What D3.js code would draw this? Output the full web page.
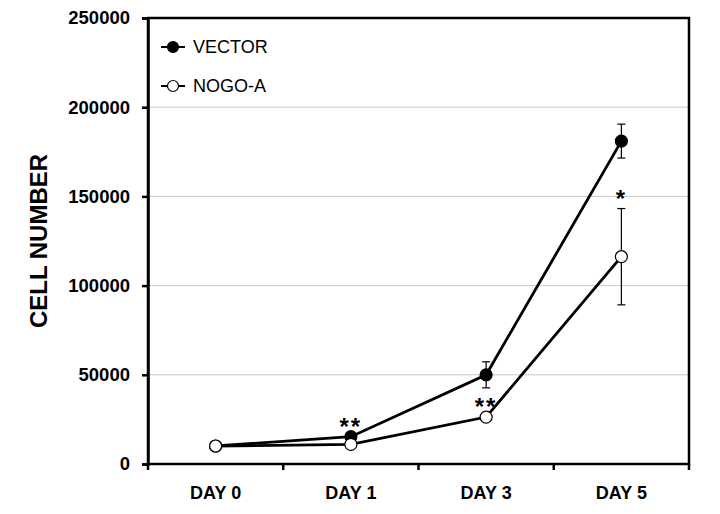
<!DOCTYPE html>
<html><head><meta charset="utf-8">
<script src="https://cdn.jsdelivr.net/npm/d3@7"></script>
<style>body{margin:0;background:#fff}svg{display:block}</style>
</head><body>
<script>
const categories = ["DAY 0","DAY 1","DAY 3","DAY 5"];
const vectorVals = [10100, 15300, 50000, 181000];
const vectorErr = [0, 0, 7300, 9500];
const nogoVals = [10100, 11000, 26300, 116200];
const nogoErr = [0, 0, 0, 27000];
const yTicks = [0, 50000, 100000, 150000, 200000, 250000];
const stars = [{cat:"DAY 1", val:15300, txt:"**"}, {cat:"DAY 3", val:26300, txt:"**"}, {cat:"DAY 5", val:143200, txt:"*"}];
const seriesNames = ["VECTOR","NOGO-A"];

const W=720,H=514;
const m={l:148,r:31,t:18,b:50};
const svg=d3.select("body").append("svg").attr("width",W).attr("height",H);
const x=d3.scaleBand().domain(categories).range([m.l,W-m.r]);
const y=d3.scaleLinear().domain([0,250000]).range([H-m.b,m.t]);
const font="Arial, 'Liberation Sans', sans-serif";

// gridlines
svg.append("g").selectAll("line").data(yTicks.slice(1,-1)).join("line")
 .attr("x1",m.l).attr("x2",W-m.r).attr("y1",d=>y(d)).attr("y2",d=>y(d))
 .attr("stroke","#c8c8c8").attr("stroke-width",1);

// frame
svg.append("rect").attr("x",m.l).attr("y",m.t).attr("width",W-m.r-m.l).attr("height",H-m.b-m.t)
 .attr("fill","none").attr("stroke","#000").attr("stroke-width",2.5);

// y axis
const ya=svg.append("g").attr("transform",`translate(${m.l},0)`)
 .call(d3.axisLeft(y).tickValues(yTicks).tickFormat(d3.format("d")).tickSize(6).tickPadding(12));
ya.select(".domain").attr("stroke-width",2.5);
ya.selectAll(".tick line").attr("stroke-width",2.5);
ya.selectAll("text").attr("font-family",font).attr("font-size",18.5).attr("font-weight","bold").attr("fill","#000");

// x axis
const xa=svg.append("g").attr("transform",`translate(0,${H-m.b})`)
 .call(d3.axisBottom(x).tickSize(0).tickPadding(22));
xa.select(".domain").remove();
xa.selectAll("text").attr("font-family",font).attr("font-size",18).attr("font-weight","bold").attr("fill","#000");
const bounds=categories.map(c=>x(c)).concat([x(categories[categories.length-1])+x.bandwidth()]);
svg.append("g").selectAll("line").data(bounds).join("line")
 .attr("x1",d=>d).attr("x2",d=>d).attr("y1",H-m.b).attr("y2",H-m.b+6)
 .attr("stroke","#000").attr("stroke-width",2.5);

// y title
svg.append("text").attr("transform",`translate(47,${(m.t+H-m.b)/2}) rotate(-90)`)
 .attr("text-anchor","middle").attr("font-family",font).attr("font-size",24).attr("font-weight","bold").text("CELL NUMBER");

const cx=c=>x(c)+x.bandwidth()/2;
const line=d3.line().x((d,i)=>cx(categories[i])).y(d=>y(d));

function drawSeries(vals,errs,fill){
  const g=svg.append("g");
  g.append("path").attr("d",line(vals)).attr("fill","none").attr("stroke","#000").attr("stroke-width",2.8);
  vals.forEach((v,i)=>{
    if(errs[i]>0){
      const X=cx(categories[i]);
      g.append("line").attr("x1",X).attr("x2",X).attr("y1",y(v+errs[i])).attr("y2",y(v-errs[i])).attr("stroke","#000").attr("stroke-width",1.2);
      [v+errs[i],v-errs[i]].forEach(e=>g.append("line").attr("x1",X-4).attr("x2",X+4).attr("y1",y(e)).attr("y2",y(e)).attr("stroke","#000").attr("stroke-width",1.2));
    }
  });
  g.selectAll("circle").data(vals).join("circle").attr("cx",(d,i)=>cx(categories[i])).attr("cy",d=>y(d))
   .attr("r",6).attr("fill",fill).attr("stroke","#000").attr("stroke-width",1.2);
}
drawSeries(vectorVals,vectorErr,"#000");
drawSeries(nogoVals,nogoErr,"#fff");

// stars
svg.append("g").selectAll("text").data(stars).join("text")
 .attr("x",d=>cx(d.cat)).attr("y",d=>y(d.val)-2).attr("text-anchor","middle")
 .attr("font-family",font).attr("font-size",24).attr("font-weight","bold").attr("letter-spacing",2)
 .text(d=>d.txt);

// legend
const lg=svg.append("g");
seriesNames.forEach((n,i)=>{
  const ly=47+i*39;
  lg.append("line").attr("x1",161).attr("x2",185).attr("y1",ly).attr("y2",ly).attr("stroke","#000").attr("stroke-width",2);
  lg.append("circle").attr("cx",173).attr("cy",ly).attr("r",5.5).attr("fill",i===0?"#000":"#fff").attr("stroke","#000").attr("stroke-width",1.2);
  lg.append("text").attr("x",193).attr("y",ly).attr("dy","0.36em").attr("font-family",font).attr("font-size",18).text(n);
});
</script>
</body></html>
